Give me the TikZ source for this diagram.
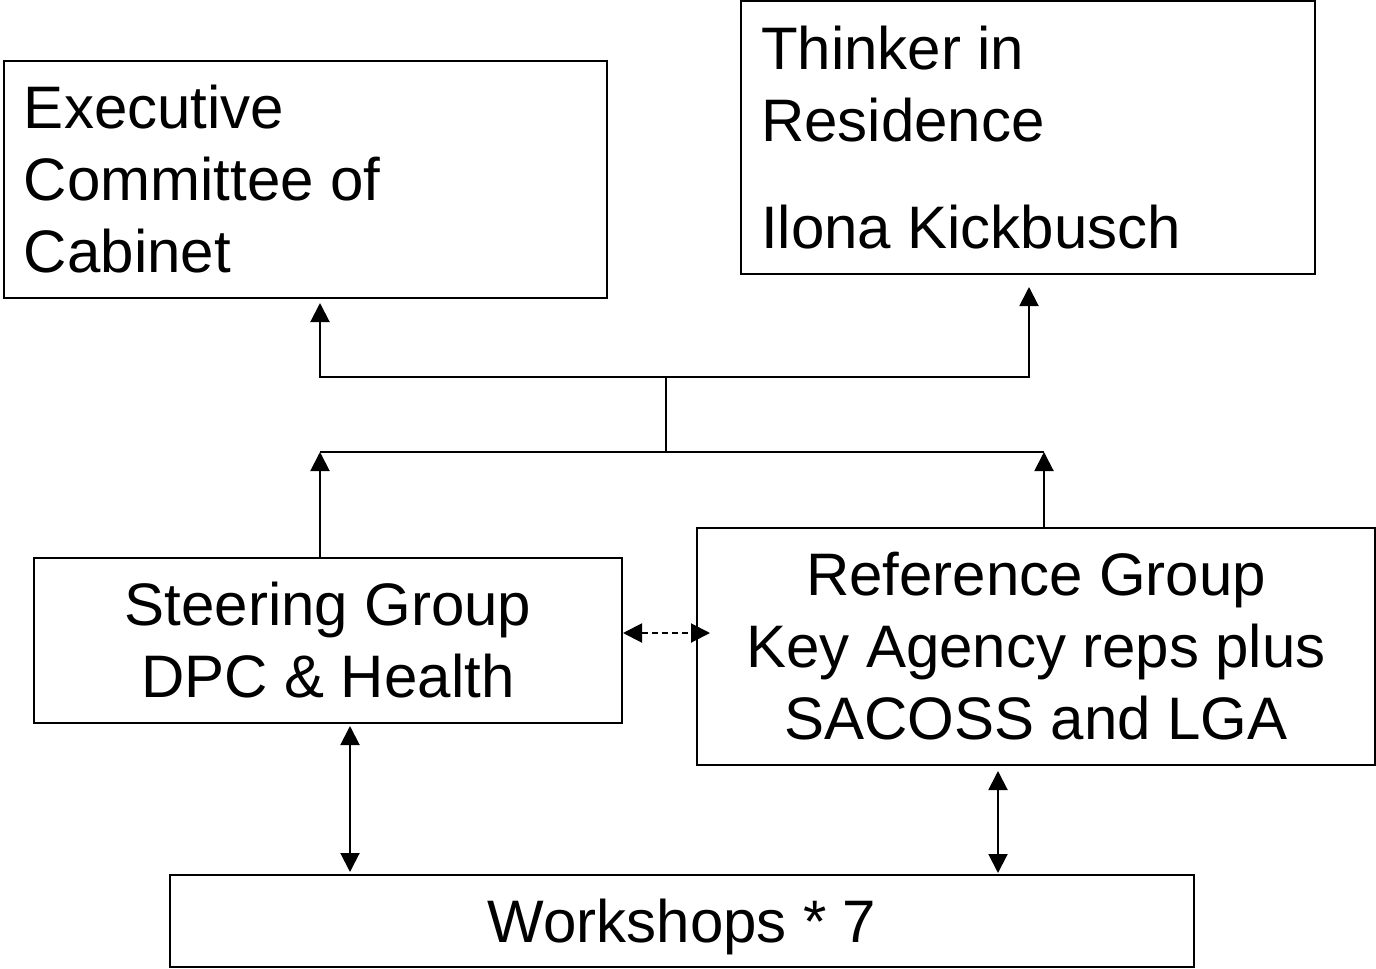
\documentclass[tikz,border=0pt]{standalone}
\usepackage{fontspec}
\setmainfont{Liberation Sans}
\usepackage{tikz}
\usetikzlibrary{arrows.meta,positioning,calc}
\newcommand{\boxfont}{\fontsize{30}{36}\selectfont}
\tikzset{
  box/.style={rectangle, draw=black, line width=1pt, inner xsep=10pt, inner ysep=0pt, font=\boxfont,
    execute at begin node={\spaceskip=8.2pt\relax}},
  leftbox/.style={box, align=left},
  midbox/.style={box, align=center},
  link/.style={line width=1pt, line join=miter},
  uparrow/.style={link, -{Triangle[length=9.5pt,width=9.5pt]}},
  bothways/.style={link, {Triangle[length=9.5pt,width=9.5pt]}-{Triangle[length=9.5pt,width=9.5pt]}},
  dashlink/.style={bothways, dash pattern=on 3pt off 2pt}
}
\begin{document}
\begin{tikzpicture}[x=0.5pt,y=-0.5pt]
  \useasboundingbox (0,0) rectangle (1376,969);

  \node[leftbox, text width=281.5pt, minimum height=118.5pt] (exec) at (305.5,179.5)
    {Executive\\Committee of\\Cabinet};
  \node[leftbox, text width=267pt, minimum height=136.5pt] (thinker) at (1028,137.5)
    {Thinker in\\Residence\\[17.5pt]Ilona Kickbusch};
  \node[midbox, text width=274pt, minimum height=82.5pt] (steer) at (328,640.5)
    {Steering Group\\DPC \& Health};
  \node[midbox, text width=319pt, minimum height=118.5pt] (ref) at (1036,646.5)
    {Reference Group\\Key Agency reps plus\\SACOSS and LGA};
  \node[box, minimum width=512pt, minimum height=46pt, text depth=0pt] (work) at (682,921)
    {Workshops * 7};

  % upper fork
  \coordinate (jtop) at (666,377);
  \coordinate (jbot) at (666,452);
  \coordinate (ea) at (320,303);
  \coordinate (ta) at (1029,287);
  \draw[uparrow] (jtop) -| (ea);
  \draw[uparrow] (jtop) -| (ta);
  \draw[link] (jtop) -- (jbot);

  % lower fork
  \coordinate (sa) at (320,452);
  \coordinate (ra) at (1044,452);
  \draw[link] (sa) -- (ra);
  \draw[uparrow] (sa |- steer.north) -- (sa);
  \draw[uparrow] (ra |- ref.north) -- (ra);

  % two-way links
  \coordinate (sw) at (350,800);
  \coordinate (rw) at (998,800);
  \coordinate (dm) at (660,633);
  \draw[bothways, shorten <=1pt, shorten >=1pt] (steer.south -| sw) -- (work.north -| sw);
  \draw[bothways, shorten <=2.5pt, shorten >=0.5pt] (ref.south -| rw) -- (work.north -| rw);
  \draw[dashlink] (steer.east |- dm) -- ([xshift=7pt]ref.west |- dm);
\end{tikzpicture}
\end{document}
